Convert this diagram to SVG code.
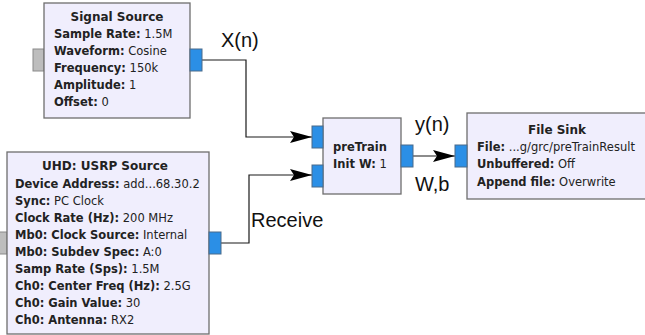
<svg xmlns="http://www.w3.org/2000/svg" width="645" height="335" viewBox="0 0 645 335">
<style>
.blk{fill:#f0eefd;stroke:#6e6e6e;stroke-width:1.3}
.pin{fill:#2b8fe6;stroke:#4a6a8a;stroke-width:1}
.pgr{fill:#bdbdbd;stroke:#8a8a8a;stroke-width:1}
.t{font-family:"DejaVu Sans",sans-serif;font-size:11.5px;fill:#222}
.h{font-family:"DejaVu Sans",sans-serif;font-size:12px;font-weight:bold;fill:#222;text-anchor:middle}
.b{font-weight:bold}
.w{fill:none;stroke:#1a1a1a;stroke-width:1.2}
.lbl{font-family:"Liberation Sans",Arial,sans-serif;font-size:20px;fill:#111}
</style>
<defs>
<marker id="ah" markerWidth="22" markerHeight="12" refX="22" refY="6" orient="auto" markerUnits="userSpaceOnUse">
<path d="M0,0 L22,6 L0,12 L4,6 Z" fill="#000"/>
</marker>
</defs>
<rect width="645" height="335" fill="#fff"/>
<g id="connectors">
<path class="w" d="M202,60 H246 V137 H312" marker-end="url(#ah)"/>
<path class="w" d="M221,243 H249 V175 H312" marker-end="url(#ah)"/>
<path class="w" d="M413,156 H455" marker-end="url(#ah)"/>
</g>
<g id="signal_source">
<rect class="pgr" x="33" y="49" width="11" height="22"/>
<rect class="blk" x="44" y="3" width="146" height="115"/>
<rect class="pin" x="190" y="49" width="12" height="22"/>
<text class="h" x="117" y="21">Signal Source</text>
<text class="t" x="54" y="38"><tspan class="b">Sample Rate:</tspan> 1.5M</text>
<text class="t" x="54" y="55"><tspan class="b">Waveform:</tspan> Cosine</text>
<text class="t" x="54" y="72"><tspan class="b">Frequency:</tspan> 150k</text>
<text class="t" x="54" y="89"><tspan class="b">Amplitude:</tspan> 1</text>
<text class="t" x="54" y="106"><tspan class="b">Offset:</tspan> 0</text>
</g>
<g id="usrp_source">
<rect class="pgr" x="-2" y="232" width="9" height="22"/>
<rect class="blk" x="7" y="152" width="202" height="182"/>
<rect class="pin" x="209" y="232" width="12" height="22"/>
<text class="h" x="105" y="170">UHD: USRP Source</text>
<text class="t" x="15" y="188"><tspan class="b">Device Address:</tspan> add...68.30.2</text>
<text class="t" x="15" y="205"><tspan class="b">Sync:</tspan> PC Clock</text>
<text class="t" x="15" y="222"><tspan class="b">Clock Rate (Hz):</tspan> 200 MHz</text>
<text class="t" x="15" y="239"><tspan class="b">Mb0: Clock Source:</tspan> Internal</text>
<text class="t" x="15" y="256"><tspan class="b">Mb0: Subdev Spec:</tspan> A:0</text>
<text class="t" x="15" y="273"><tspan class="b">Samp Rate (Sps):</tspan> 1.5M</text>
<text class="t" x="15" y="290"><tspan class="b">Ch0: Center Freq (Hz):</tspan> 2.5G</text>
<text class="t" x="15" y="307"><tspan class="b">Ch0: Gain Value:</tspan> 30</text>
<text class="t" x="15" y="324"><tspan class="b">Ch0: Antenna:</tspan> RX2</text>
</g>
<g id="pretrain">
<rect class="blk" x="323" y="118" width="78" height="76"/>
<rect class="pin" x="312" y="126" width="11" height="22"/>
<rect class="pin" x="312" y="165" width="11" height="22"/>
<rect class="pin" x="401" y="145" width="12" height="22"/>
<text class="t b" x="333" y="151">preTrain</text>
<text class="t" x="333" y="168"><tspan class="b">Init W:</tspan> 1</text>
</g>
<g id="file_sink">
<rect class="blk" x="467" y="113" width="185" height="86"/>
<rect class="pin" x="455" y="145" width="12" height="22"/>
<text class="h" x="557" y="134">File Sink</text>
<text class="t" x="477" y="151"><tspan class="b">File:</tspan> ...g/grc/preTrainResult</text>
<text class="t" x="477" y="168"><tspan class="b">Unbuffered:</tspan> Off</text>
<text class="t" x="477" y="186"><tspan class="b">Append file:</tspan> Overwrite</text>
</g>
<g id="labels">
<text class="lbl" x="221" y="47">X(n)</text>
<text class="lbl" x="415" y="131">y(n)</text>
<text class="lbl" x="415" y="191">W,b</text>
<text class="lbl" x="251" y="227">Receive</text>
</g>
</svg>
